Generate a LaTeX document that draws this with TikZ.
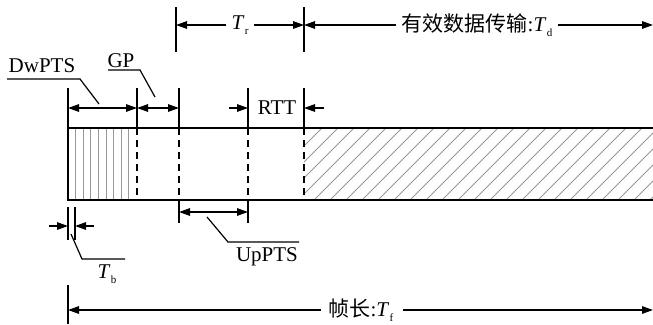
\documentclass[tikz,border=0pt]{standalone}
\usepackage{fontspec}
\setmainfont{Liberation Serif}
\newfontfamily\cjk{Noto Sans CJK SC}
\usetikzlibrary{arrows.meta}
\newcommand\Tsb[1]{\textit{T}\kern0.3pt\raisebox{-0.5ex}{\fontsize{11}{11}\selectfont #1}}
\begin{document}
\begin{tikzpicture}[x=1pt,y=-1pt,
  line width=1.4pt,
  tip/.style={-{Triangle[length=11pt,width=7.5pt]}},
  twotip/.style={{Triangle[length=11pt,width=7.5pt]}-{Triangle[length=11pt,width=7.5pt]}},
  lbl/.style={inner sep=1pt,font=\fontsize{21}{21}\selectfont},
  tick/.style={line width=1.4pt},
  dsh/.style={dash pattern=on 7pt off 5pt,line width=1.2pt},
  stripe/.style={gray!80,line width=0.8pt},
  hatch/.style={gray!80,line width=0.9pt},
  leader/.style={line width=1.2pt}]
\useasboundingbox (0,0) rectangle (653,324);
% frame rectangle
\coordinate (rtl) at (68,128);
\coordinate (rbl) at (68,200);
\coordinate (rtr) at (653,128);
\coordinate (rbr) at (653,200);
% stripes (DwPTS)
\foreach \k in {1,...,8}{\draw[stripe] (68+7.6*\k,128) -- (68+7.6*\k,200);}
% hatch
\begin{scope}
\clip (304,128) rectangle (653,200);
\foreach \k in {-1,...,26}{\draw[hatch] (322+16*\k,128) -- (322+16*\k-72,200);}
\end{scope}
\draw[line width=2pt] (rtr) -- (rtl) -- (rbl) -- (rbr);
% dashed divisions
\foreach \x in {137,179,248,304}{\draw[dsh] (\x,128) -- (\x,200);}
% ticks above rectangle
\foreach \x in {68,137,179,248,304}{\draw[tick] (\x,88) -- (\x,128);}
% Tr ticks
\coordinate (trL) at (176,25); \coordinate (trR) at (304,25);
\draw[tick] (176,7) -- (176,52);
\draw[tick] (304,7) -- (304,52);
\node[lbl] (tr) at (240,25) {\Tsb{r}};
\draw[tip] (tr.west) ++(-4,0) coordinate (trw) -- (trL);
\draw[tip] (tr.east) ++(4,0) coordinate (tre) -- (trR);
% Td
\node[lbl] (td) at (477,25) {{\cjk 有效数据传输}:\Tsb{d}};
\coordinate (tdR) at (653,25);
\draw[tip] (td.west) ++(-4,0) coordinate (tdw) -- (trR);
\draw[tip] (td.east) ++(4,0) coordinate (tde) -- (tdR);
% DwPTS & GP arrows
\coordinate (d1) at (68,108); \coordinate (d2) at (137,108); \coordinate (d3) at (179,108);
\draw[twotip] (d1) -- (d2);
\draw[twotip] (d2) -- (d3);
\node[lbl] (dw) at (42,66) {DwPTS};
\coordinate (dwA) at (7,79); \coordinate (dwB) at (80,79); \coordinate (dwC) at (99,104);
\draw[leader] (dwA) -- (dwB) -- (dwC);
\node[lbl] (gp) at (121,61) {GP};
\coordinate (gpA) at (108,70); \coordinate (gpB) at (140,70); \coordinate (gpC) at (155,97);
\draw[leader] (gpA) -- (gpB) -- (gpC);
% RTT
\node[lbl] (rtt) at (277,108) {RTT};
\coordinate (r1) at (248,108); \coordinate (r2) at (304,108);
\coordinate (r1o) at (229,108); \coordinate (r2o) at (324,108);
\draw[tip] (r1o) -- (r1);
\draw[tip] (r2o) -- (r2);
% UpPTS
\draw[tick] (179,200) -- (179,223);
\draw[tick] (248,200) -- (248,223);
\coordinate (u1) at (179,212); \coordinate (u2) at (248,212);
\draw[twotip] (u1) -- (u2);
\node[lbl] (up) at (267,257) {UpPTS};
\coordinate (upA) at (207,217); \coordinate (upB) at (228,242); \coordinate (upC) at (299,242);
\draw[leader] (upA) -- (upB) -- (upC);
% Tb
\draw[tick] (68,207) -- (68,240);
\draw[tick] (75,207) -- (75,240);
\coordinate (b1) at (68,226); \coordinate (b2) at (75,226);
\coordinate (b1o) at (49,226); \coordinate (b2o) at (94,226);
\draw[tip] (b1o) -- (b1);
\draw[tip] (b2o) -- (b2);
\node[lbl] (tb) at (107,274) {\Tsb{b}};
\coordinate (tbA) at (71,234); \coordinate (tbB) at (82,259); \coordinate (tbC) at (125,259);
\draw[leader] (tbA) -- (tbB) -- (tbC);
% frame length
\draw[tick] (68,285) -- (68,324);
\node[lbl] (tf) at (361,310) {{\cjk 帧长}:\Tsb{f}};
\coordinate (tfL) at (68,310); \coordinate (tfR) at (653,310);
\draw[tip] (tf.west) ++(-6,0) coordinate (tfw) -- (tfL);
\draw[tip] (tf.east) ++(8,0) coordinate (tfe) -- (tfR);
\end{tikzpicture}
\end{document}
